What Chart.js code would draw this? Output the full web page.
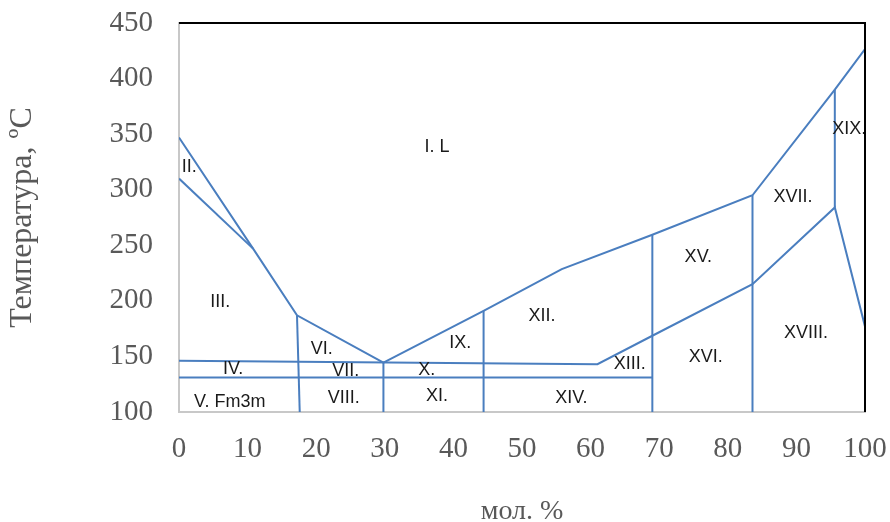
<!DOCTYPE html>
<html>
<head>
<meta charset="utf-8">
<script src="https://cdn.jsdelivr.net/npm/chart.js@4.4.1/dist/chart.umd.min.js"></script>
<style>
  html, body { margin: 0; padding: 0; background: #ffffff; }
  #wrap { width: 890px; height: 522px; }
</style>
</head>
<body>
<div id="wrap"><canvas id="c" width="890" height="522"></canvas></div>
<script>
// ---- data (mol. %, temperature °C) ----
const liquidusLeft  = [{x:0,y:347},{x:10.8,y:247},{x:17.2,y:187},{x:29.8,y:144.5}];
const boundaryII    = [{x:0,y:310},{x:10.8,y:247}];
const liquidusRight = [{x:29.8,y:144.5},{x:44.4,y:191},{x:55.8,y:228.5},{x:69,y:259.5},{x:83.6,y:295},{x:95.6,y:390},{x:100,y:426.5}];
const solvusLine    = [{x:0,y:146},{x:61,y:143},{x:69,y:168.6},{x:83.6,y:215},{x:95.6,y:284},{x:100,y:177}];
const line131       = [{x:0,y:131},{x:69,y:131}];
const vertical17    = [{x:17.2,y:187},{x:17.6,y:100}];
const vertical30    = [{x:29.8,y:144.5},{x:29.8,y:100}];
const vertical44    = [{x:44.4,y:191},{x:44.4,y:100}];
const vertical69    = [{x:69,y:259.5},{x:69,y:100}];
const vertical84    = [{x:83.6,y:295},{x:83.6,y:100}];
const vertical96    = [{x:95.6,y:390},{x:95.6,y:284}];

const regionNames = ["I. L","II.","III.","IV.","V. Fm3m","VI.","VII.","VIII.","IX.","X.","XI.","XII.","XIII.","XIV.","XV.","XVI.","XVII.","XVIII.","XIX."];
const regionX     = [37.6, 1.5, 6.0, 7.9, 7.4, 20.8, 24.3, 24.0, 41.0, 36.1, 37.6, 52.9, 65.7, 57.2, 75.7, 76.8, 89.5, 91.4, 97.7];
const regionT     = [338, 320, 198.5, 139, 109, 156.3, 137, 113, 161.7, 137.7, 114.3, 186, 142.8, 113, 239.6, 149.1, 293.7, 170.7, 354.3];

const xTicks = [0,10,20,30,40,50,60,70,80,90,100];
const yTicks = [100,150,200,250,300,350,400,450];

const xTitle = "мол. %";
const yTitle = "Температура, ºC";

// ---- chart ----
const lineColor = '#4a7ebf';
const allLines = [liquidusLeft, boundaryII, liquidusRight, solvusLine, line131,
  vertical17, vertical30, vertical44, vertical69, vertical84, vertical96];

const datasets = allLines.map(pts => ({
  data: pts,
  showLine: true,
  borderColor: lineColor,
  borderWidth: 2,
  pointRadius: 0,
  fill: false,
  tension: 0
}));

const regionLabelsPlugin = {
  id: 'regionLabels',
  afterDatasetsDraw(chart) {
    const {ctx, scales:{x, y}} = chart;
    ctx.save();
    ctx.font = '18px "Liberation Sans", Arial, sans-serif';
    ctx.fillStyle = '#1a1a1a';
    ctx.textAlign = 'center';
    ctx.textBaseline = 'middle';
    regionNames.forEach((t, i) => {
      ctx.fillText(t, x.getPixelForValue(regionX[i]), y.getPixelForValue(regionT[i]));
    });
    ctx.restore();
  }
};

const frameTopRightPlugin = {
  id: 'frameTopRight',
  afterDraw(chart) {
    const {ctx, chartArea:{left, right, top, bottom}} = chart;
    ctx.save();
    ctx.strokeStyle = '#000000';
    ctx.lineWidth = 2;
    ctx.beginPath();
    ctx.moveTo(left, top);
    ctx.lineTo(right, top);
    ctx.lineTo(right, bottom);
    ctx.stroke();
    ctx.restore();
  }
};

new Chart(document.getElementById('c'), {
  type: 'scatter',
  data: { datasets },
  options: {
    responsive: false,
    animation: false,
    devicePixelRatio: 1,
    layout: { padding: { top: 23, right: 25, left: 0, bottom: 0 } },
    plugins: { legend: { display: false }, tooltip: { enabled: false } },
    scales: {
      x: {
        type: 'linear',
        min: 0, max: 100,
        afterBuildTicks(scale) { scale.ticks = xTicks.map(v => ({value: v})); },
        afterFit(scale) { scale.height = 110; scale.paddingLeft = 0; scale.paddingRight = 0; },
        grid: { display: false, drawTicks: false },
        border: { display: true, color: '#c8c8c8', width: 2 },
        ticks: {
          padding: 20,
          color: '#595959',
          font: { family: '"Liberation Serif", "Times New Roman", serif', size: 29 },
          maxRotation: 0,
          autoSkip: false
        },
        title: {
          display: true,
          text: xTitle,
          color: '#595959',
          font: { family: '"Liberation Serif", "Times New Roman", serif', size: 28, lineHeight: 0.72 },
          padding: { top: 0, bottom: 0 }
        }
      },
      y: {
        type: 'linear',
        min: 100, max: 450,
        afterBuildTicks(scale) { scale.ticks = yTicks.map(v => ({value: v})); },
        afterFit(scale) { scale.width = 179; scale.paddingTop = 0; scale.paddingBottom = 0; },
        grid: { display: false, drawTicks: false },
        border: { display: true, color: '#c8c8c8', width: 2 },
        ticks: {
          padding: 26,
          color: '#595959',
          font: { family: '"Liberation Serif", "Times New Roman", serif', size: 29 },
          autoSkip: false
        },
        title: {
          display: true,
          text: yTitle,
          color: '#595959',
          font: { family: '"Liberation Serif", "Times New Roman", serif', size: 32, lineHeight: 1.2 },
          padding: { top: 3, bottom: 0 }
        }
      }
    }
  },
  plugins: [regionLabelsPlugin, frameTopRightPlugin]
});
</script>
</body>
</html>
